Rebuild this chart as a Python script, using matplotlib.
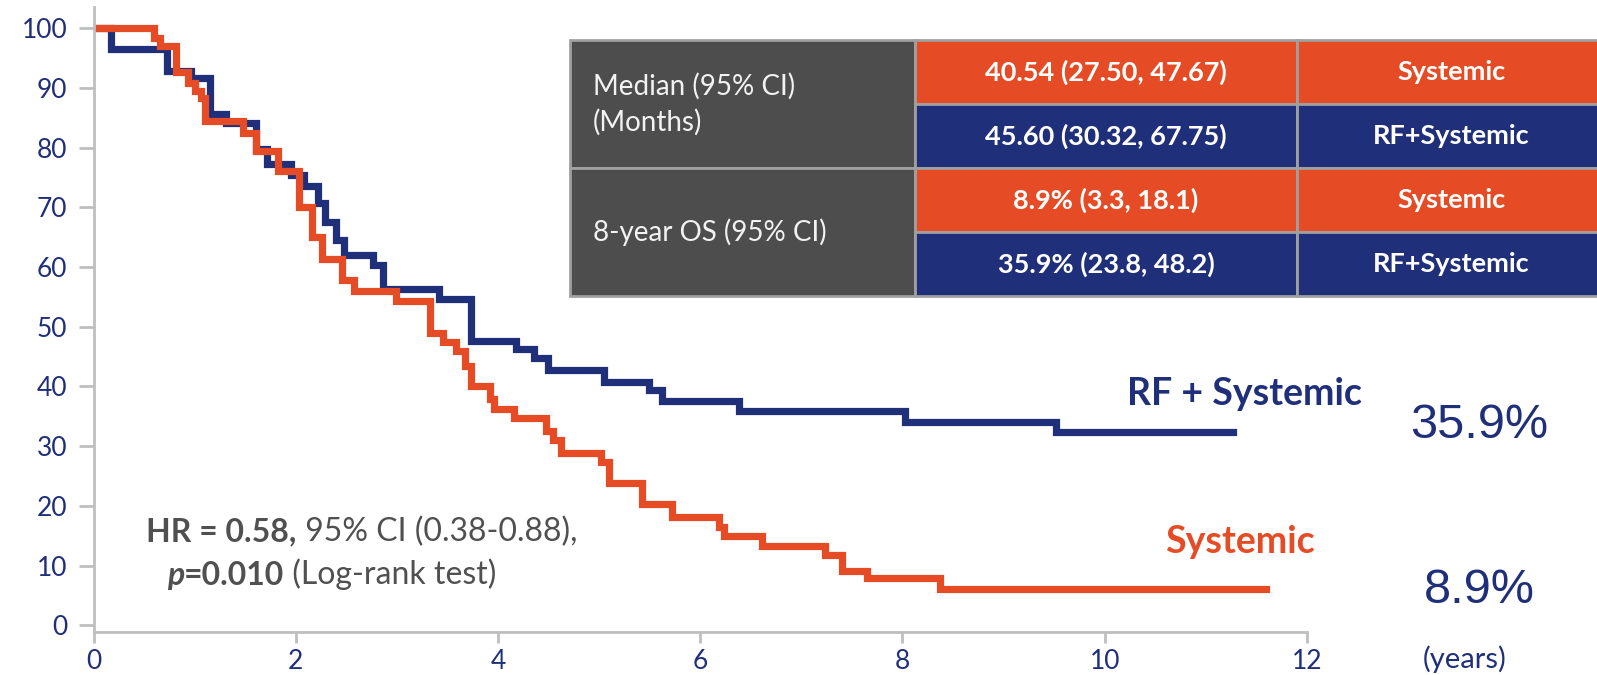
import matplotlib.pyplot as plt
from matplotlib.patches import Rectangle

plt.rcParams['font.family'] = ['Lato', 'DejaVu Sans']

# Kaplan-Meier step data (years, % surviving)
rf_years = [0, 0.17, 0.72, 0.96, 1.15, 1.31, 1.61, 1.71, 1.95, 2.08, 2.22, 2.29,
            2.40, 2.48, 2.76, 2.86, 3.42, 3.73, 4.18, 4.36, 4.49, 5.05, 5.49,
            5.62, 6.38, 8.03, 9.52, 11.27]
rf_surv = [100, 96.5, 92.8, 91.7, 85.7, 84.1, 79.7, 77.2, 75.5, 73.5, 70.8, 67.5,
           64.5, 62.1, 60.4, 56.3, 54.6, 47.6, 46.2, 44.7, 42.8, 40.7, 39.4,
           37.6, 35.9, 34.0, 32.3, 32.3]

sys_years = [0, 0.60, 0.66, 0.81, 0.93, 1.00, 1.06, 1.10, 1.48, 1.61, 1.82, 2.03,
             2.16, 2.26, 2.46, 2.57, 2.99, 3.33, 3.45, 3.58, 3.67, 3.73, 3.92,
             3.96, 4.16, 4.47, 4.54, 4.62, 5.02, 5.10, 5.42, 5.72, 6.19, 6.23,
             6.61, 7.23, 7.40, 7.65, 8.37, 11.60]
sys_surv = [100, 98.4, 97.0, 92.6, 90.8, 89.5, 88.3, 84.4, 82.5, 79.4, 76.1, 70.1,
            65.1, 61.4, 57.8, 56.0, 54.3, 49.0, 47.4, 45.9, 43.5, 40.1, 37.9,
            36.3, 34.8, 32.6, 31.1, 28.9, 27.3, 23.9, 20.3, 18.1, 16.4, 14.9,
            13.3, 11.8, 9.1, 8.0, 6.0, 6.0]

x_ticks = [0, 2, 4, 6, 8, 10, 12]
y_ticks = [0, 10, 20, 30, 40, 50, 60, 70, 80, 90, 100]

# Summary table
row_groups = ['Median (95% CI)\n(Months)', '8-year OS (95% CI)']
cell_values = ['40.54 (27.50, 47.67)', '45.60 (30.32, 67.75)',
               '8.9% (3.3, 18.1)', '35.9% (23.8, 48.2)']
cell_arms = ['Systemic', 'RF+Systemic', 'Systemic', 'RF+Systemic']

end_rates = ['35.9%', '8.9%']

BLUE = '#1F2F7A'
ORANGE = '#E54B24'
GRAY = '#4D4D4D'
AXIS = '#BFBFBF'
TEXT = '#505050'

W, H = 1597, 675
fig = plt.figure(figsize=(W / 100, H / 100), dpi=100)
ax = fig.add_axes([0.0587, 0.063, 0.7596, 0.927])

ax.step(rf_years, rf_surv, where='post', color=BLUE, lw=5.2, solid_joinstyle='miter')
ax.step(sys_years, sys_surv, where='post', color=ORANGE, lw=5.2, solid_joinstyle='miter')

ax.set_xlim(0, 12)
ax.set_ylim(-1.2, 103.6)
ax.set_xticks(x_ticks)
ax.set_yticks(y_ticks)
for s in ['top', 'right']:
    ax.spines[s].set_visible(False)
for s in ['left', 'bottom']:
    ax.spines[s].set_color(AXIS)
    ax.spines[s].set_linewidth(2)
ax.tick_params(axis='y', length=11, width=2, color=AXIS, pad=8,
               labelsize=19, labelcolor=BLUE)
ax.tick_params(axis='x', length=8, width=2, color=AXIS, pad=4,
               labelsize=19, labelcolor=BLUE)

# curve labels and end-of-follow-up rates
ax.text(11.38, 38.8, 'RF + Systemic', color=BLUE, fontsize=27, weight='bold',
        ha='center', va='center')
ax.text(11.34, 14.0, 'Systemic', color=ORANGE, fontsize=27, weight='bold',
        ha='center', va='center')
ax.text(13.7, 33.4, end_rates[0], color=BLUE, fontsize=35, family='Liberation Sans',
        ha='center', va='center', clip_on=False)
ax.text(13.71, 5.9, end_rates[1], color=BLUE, fontsize=35, family='Liberation Sans',
        ha='center', va='center', clip_on=False)
ax.text(13.56, -5.6, '(years)', color=BLUE, fontsize=21, ha='center', va='center',
        clip_on=False)

# hazard ratio annotation, mixed weights
t = ax.text(0.52, 15.6, 'HR = 0.58,', color=TEXT, fontsize=23, weight='bold',
            va='center')
ax.annotate(' 95% CI (0.38-0.88),', xy=(1, 0), xycoords=t, color=TEXT,
            fontsize=23, va='bottom')
t = ax.text(0.72, 8.4, 'p', color=TEXT, fontsize=23, weight='bold',
            style='italic', va='center')
t = ax.annotate('=0.010', xy=(1, 0), xycoords=t, color=TEXT, fontsize=23,
                weight='bold', va='bottom')
ax.annotate(' (Log-rank test)', xy=(1, 0), xycoords=t, color=TEXT, fontsize=23,
            va='bottom')

# table drawn in pixel coordinates
tab = fig.add_axes([570 / W, 1 - 296 / H, (W - 570) / W, 256 / H])
tab.set_xlim(570, W)
tab.set_ylim(296, 40)
tab.axis('off')
col_edges = [570, 915, 1297, 1605]
row_edges = [40, 104, 168, 232, 296]
edge = '#A0A0A0'

for g, label in enumerate(row_groups):
    y0, y1 = row_edges[2 * g], row_edges[2 * g + 2]
    tab.add_patch(Rectangle((col_edges[0], y0), col_edges[1] - col_edges[0], y1 - y0,
                            facecolor=GRAY, edgecolor=edge, lw=2, clip_on=False))
    tab.text(col_edges[0] + 23, (y0 + y1) / 2, label, color='#F2F2F2', fontsize=20,
             ha='left', va='center', linespacing=1.4)

for r, (val, arm) in enumerate(zip(cell_values, cell_arms)):
    y0, y1 = row_edges[r], row_edges[r + 1]
    fc = ORANGE if arm == 'Systemic' else BLUE
    for c, txt in ((1, val), (2, arm)):
        x0, x1 = col_edges[c], col_edges[c + 1]
        tab.add_patch(Rectangle((x0, y0), x1 - x0, y1 - y0, facecolor=fc,
                                edgecolor=edge, lw=2, clip_on=False))
        tab.text((x0 + x1) / 2, (y0 + y1) / 2, txt, color='white', fontsize=19.5,
                 weight='bold', ha='center', va='center')

fig.savefig('out.png', dpi=100)
